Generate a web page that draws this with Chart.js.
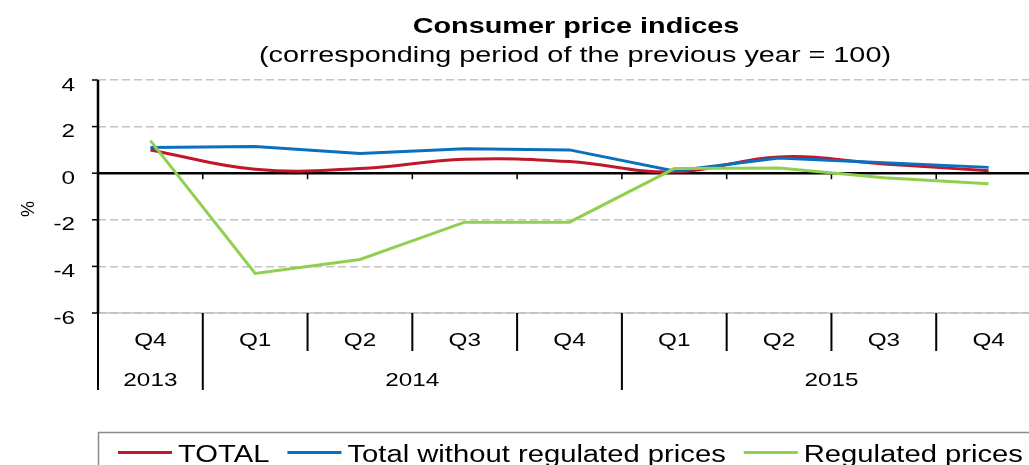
<!DOCTYPE html>
<html>
<head>
<meta charset="utf-8">
<script src="https://cdn.jsdelivr.net/npm/chart.js@4/dist/chart.umd.min.js"></script>
<style>
	body { margin: 0; overflow: hidden; background: #fff; }
	#wrap { width: 1050px; height: 465px; }
</style>
</head>
<body>
<div id="wrap"><canvas id="cpiChart" width="1050" height="465"></canvas></div>
<script>
var quarters = ["Q4", "Q1", "Q2", "Q3", "Q4", "Q1", "Q2", "Q3", "Q4"];
var years = ["2013", "2014", "2014", "2014", "2014", "2015", "2015", "2015", "2015"];
var yTicks = [4, 2, 0, -2, -4, -6];

var total = [1.0, 0.17, 0.2, 0.6, 0.5, 0.05, 0.7, 0.4, 0.1];
var totalWithoutRegulated = [1.1, 1.15, 0.85, 1.05, 1.0, 0.1, 0.65, 0.45, 0.25];
var regulated = [1.4, -4.3, -3.7, -2.1, -2.1, 0.2, 0.22, -0.2, -0.45];

var titleText = "Consumer price indices";
var subtitleText = "(corresponding period of the previous year = 100)";
var fontName = "'Liberation Sans', Arial, sans-serif";

// the picture has its text stretched sideways, so draw it scaled
function wideText(ctx, text, x, y, align, font, sx) {
	ctx.save();
	ctx.font = font;
	ctx.fillStyle = "#000";
	ctx.textBaseline = "alphabetic";
	ctx.translate(x, y);
	ctx.scale(sx, 1);
	ctx.textAlign = align;
	ctx.fillText(text, 0, 0);
	ctx.restore();
}

function line(ctx, x1, y1, x2, y2, color, width) {
	ctx.beginPath();
	ctx.strokeStyle = color;
	ctx.lineWidth = width;
	ctx.moveTo(x1, y1);
	ctx.lineTo(x2, y2);
	ctx.stroke();
}

var axisPlugin = {
	id: "axisPlugin",
	beforeDatasetsDraw: function (chart) {
		var ctx = chart.ctx;
		var area = chart.chartArea;
		var x = chart.scales.x;
		var y = chart.scales.y;
		var half = (x.getPixelForValue(1) - x.getPixelForValue(0)) / 2;
		ctx.save();
		ctx.setLineDash([]);
		// bottom gridline solid
		line(ctx, area.left, y.getPixelForValue(-6), area.right, y.getPixelForValue(-6), "#c0c0c0", 1.5);
		// zero line with small ticks
		var y0 = y.getPixelForValue(0);
		line(ctx, area.left, y0, area.right, y0, "#000", 2.5);
		for (var i = 1; i < quarters.length; i++) {
			var bx = x.getPixelForValue(i) - half;
			line(ctx, bx, y0, bx, y0 + 6, "#000", 1.5);
		}
		// y axis
		line(ctx, area.left, area.top, area.left, area.bottom, "#000", 2.5);
		for (var j = 0; j < yTicks.length; j++) {
			var ty = y.getPixelForValue(yTicks[j]);
			line(ctx, area.left - 6, ty, area.left, ty, "#000", 1.5);
		}
		// category separators, longer at year change
		for (var k = 0; k <= quarters.length; k++) {
			var sx = x.getPixelForValue(0) - half + k * half * 2;
			var isYear = k === 0 || k === quarters.length || years[k] !== years[k - 1];
			line(ctx, sx, area.bottom, sx, isYear ? area.bottom + 77 : area.bottom + 38, "#000", 2);
		}
		ctx.restore();
	},
	afterDraw: function (chart) {
		var ctx = chart.ctx;
		var area = chart.chartArea;
		var x = chart.scales.x;
		var y = chart.scales.y;
		var half = (x.getPixelForValue(1) - x.getPixelForValue(0)) / 2;

		wideText(ctx, titleText, 576, 33, "center", "bold 22px " + fontName, 1.31);
		wideText(ctx, subtitleText, 575, 62, "center", "22px " + fontName, 1.31);

		// y tick labels
		for (var j = 0; j < yTicks.length; j++) {
			wideText(ctx, String(yTicks[j]), 75, y.getPixelForValue(yTicks[j]) + 10.5, "right", "18px " + fontName, 1.35);
		}
		ctx.save();
		ctx.translate(34, 209);
		ctx.rotate(-Math.PI / 2);
		ctx.font = "18px " + fontName;
		ctx.fillStyle = "#000";
		ctx.textAlign = "center";
		ctx.fillText("%", 0, 0);
		ctx.restore();

		// quarter and year rows
		for (var i = 0; i < quarters.length; i++) {
			wideText(ctx, quarters[i], x.getPixelForValue(i), area.bottom + 33, "center", "18px " + fontName, 1.35);
		}
		var start = 0;
		for (var k = 1; k <= years.length; k++) {
			if (k === years.length || years[k] !== years[start]) {
				var cx = (x.getPixelForValue(start) + x.getPixelForValue(k - 1)) / 2;
				wideText(ctx, years[start], cx, area.bottom + 73, "center", "18px " + fontName, 1.35);
				start = k;
			}
		}

		// legend
		ctx.save();
		ctx.strokeStyle = "#8c8c8c";
		ctx.lineWidth = 1.5;
		ctx.strokeRect(98.5, 432.5, 1200, 100);
		ctx.restore();
		var lx = 118;
		var legendFont = "23px " + fontName;
		chart.data.datasets.forEach(function (ds) {
			line(ctx, lx, 452.5, lx + 54, 452.5, ds.borderColor, 3);
			lx += 60;
			wideText(ctx, ds.label, lx, 462, "left", legendFont, 1.27);
			ctx.save();
			ctx.font = legendFont;
			lx += ctx.measureText(ds.label).width * 1.27 + 18;
			ctx.restore();
		});
	}
};

var ctx = document.getElementById("cpiChart").getContext("2d");
var cpiChart = new Chart(ctx, {
	type: "line",
	data: {
		labels: quarters,
		datasets: [
			{
				label: "TOTAL",
				data: total,
				borderColor: "#c0172b",
				borderWidth: 3,
				tension: 0.4,
				pointRadius: 0,
				fill: false,
				order: 2,
			},
			{
				label: "Total without regulated prices",
				data: totalWithoutRegulated,
				borderColor: "#0a6fbd",
				borderWidth: 3,
				tension: 0,
				pointRadius: 0,
				fill: false,
				order: 1,
			},
			{
				label: "Regulated prices",
				data: regulated,
				borderColor: "#8fd14f",
				borderWidth: 3,
				tension: 0,
				pointRadius: 0,
				fill: false,
				order: 0,
			},
		],
	},
	options: {
		responsive: false,
		devicePixelRatio: 1,
		animation: false,
		layout: { padding: { left: 0, top: 80, right: 9, bottom: 152 } },
		plugins: {
			legend: { display: false },
			title: { display: false },
			tooltip: { enabled: false },
		},
		scales: {
			x: { type: "category", offset: true, display: false },
			y: {
				min: -6,
				max: 4,
				ticks: { stepSize: 2, display: false },
				grid: { color: "#c4c4c4", lineWidth: 1.5, drawTicks: false },
				border: { display: false, dash: [8, 4] },
				afterFit: function (scale) {
					scale.width = 98;
				},
			},
		},
	},
	plugins: [axisPlugin],
});
</script>
</body>
</html>
